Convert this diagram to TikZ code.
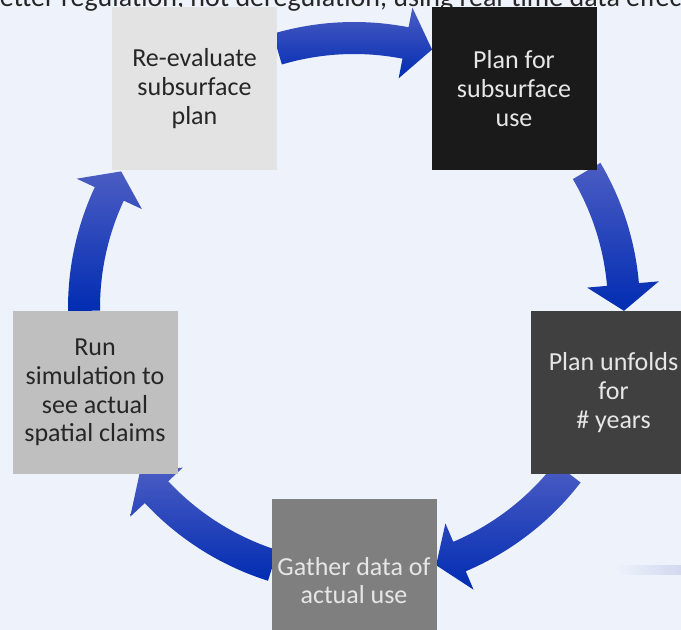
\documentclass[tikz,border=0pt]{standalone}
\usepackage{fontspec}
\setmainfont{Carlito}
\usetikzlibrary{shadings}
\definecolor{bgc}{HTML}{EEF2FB}
\definecolor{arrtop}{HTML}{4C5DC3}
\definecolor{arrmid}{HTML}{0B37BD}
\definecolor{arrbot}{HTML}{012CB2}
\definecolor{txtdark}{HTML}{262626}
\definecolor{boxA}{HTML}{E3E3E3}
\definecolor{boxB}{HTML}{1A1A1A}
\definecolor{boxC}{HTML}{404040}
\definecolor{boxD}{HTML}{7F7F7F}
\definecolor{boxE}{HTML}{BFBFBF}
\definecolor{lighttxt}{HTML}{E6E6E6}
\definecolor{barc}{HTML}{D2D9EF}
\tikzset{
  stepbox/.style={rectangle, inner sep=0pt, minimum width=165, minimum height=163, align=center,
    font=\fontsize{26}{28.7}\selectfont},
  arrowshade/.style={top color=arrtop, middle color=arrmid, bottom color=arrbot, draw=none},
}
% curved block arrow: #1 tail angle, #2 head-base angle, #3 tip angle (clockwise from top)
\newcommand{\cyclearrow}[3]{%
  \shade[arrowshade]
    ({354+286*sin(#1)},{308-286*cos(#1)})
    arc[start angle={#1-90}, end angle={#2-90}, radius=286]
    -- ({354+306*sin(#2)},{308-306*cos(#2)})
    -- ({354+270*sin(#3)},{308-270*cos(#3)})
    -- ({354+234*sin(#2)},{308-234*cos(#2)})
    -- ({354+254*sin(#2)},{308-254*cos(#2)})
    arc[start angle={#2-90}, end angle={#1-90}, radius=254]
    -- cycle;}
\begin{document}
\begin{tikzpicture}[x={(1pt,0)}, y={(0,-1pt)}]
  \useasboundingbox (0,0) rectangle (681,630);
  \clip (0,0) rectangle (681,630);
  \fill[bgc] (0,0) rectangle (681,630);
  % faint bar at right
  \shade[left color=bgc, right color=barc, draw=none] (615,565) rectangle (681,574);
  % header text (cut by the top edge)
  \node[anchor=base west, inner sep=0pt, text=txtdark, font=\fontsize{28}{33}\selectfont] (head) at (-15,6)
    {better regulation, not deregulation, using real-time data effec};
  % arrows
  \cyclearrow{-16.5}{11}{16.8}
  \cyclearrow{59.5}{85}{90.6}
  \cyclearrow{127.6}{157}{162.3}
  \cyclearrow{197.5}{227}{232.5}
  \cyclearrow{269.4}{295}{300.4}
  % boxes
  \node[stepbox, fill=boxA, text=txtdark] (reeval) at (194.5,88.5) {Re-evaluate\\subsurface\\plan};
  \node[stepbox, fill=boxB, text=lighttxt] (planfor) at (514,88.5) {Plan for\\subsurface\\use};
  \node[stepbox, fill=boxC, text=lighttxt] (unfold) at (613.5,392.5) {Plan unfolds\\for\\\# years};
  \node[stepbox, fill=boxD, text=lighttxt] (gather) at (354,580.5) {Gather data of\\actual use};
  \node[stepbox, fill=boxE, text=txtdark] (runsim) at (95,392.5) {Run\\simulation to\\see actual\\spatial claims};
\end{tikzpicture}
\end{document}
